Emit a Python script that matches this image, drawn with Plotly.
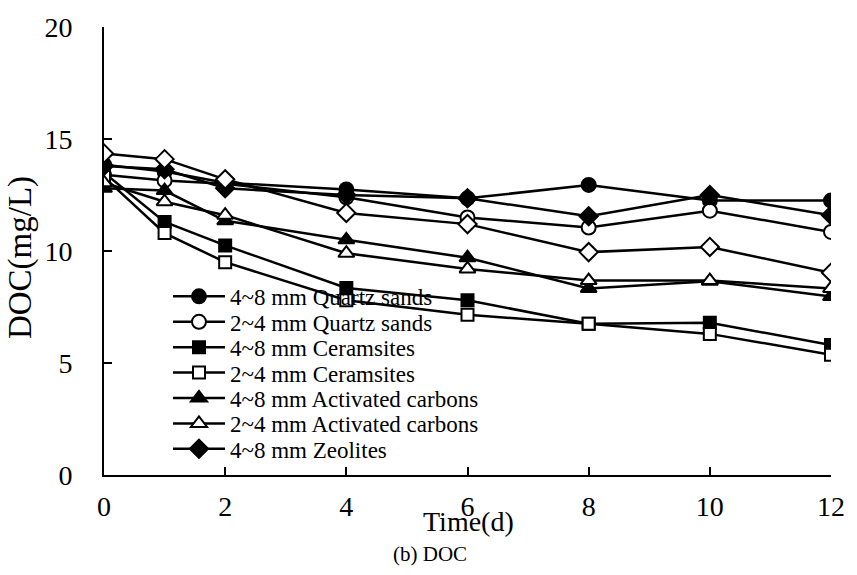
import plotly.graph_objects as go

days = [0, 1, 2, 4, 6, 8, 10, 12]

qs48 = [13.85, 13.55, 13.05, 12.75, 12.35, 12.95, 12.25, 12.25]
qs24 = [13.4, 13.15, 13.0, 12.4, 11.5, 11.05, 11.8, 10.85]
ce48 = [13.5, 11.3, 10.25, 8.35, 7.8, 6.75, 6.8, 5.8]
ce24 = [13.3, 10.8, 9.5, 7.8, 7.15, 6.75, 6.3, 5.37]
ac48 = [12.8, 12.7, 11.35, 10.5, 9.7, 8.33, 8.65, 7.97]
ac24 = [13.05, 12.2, 11.6, 9.9, 9.2, 8.68, 8.68, 8.33]
ze48 = [13.8, 13.65, 12.8, 12.5, 12.35, 11.55, 12.5, 11.6]
ze24 = [14.35, 14.1, 13.2, 11.7, 11.2, 9.95, 10.18, 9.03]

names = ["4~8 mm Quartz sands", "2~4 mm Quartz sands", "4~8 mm Ceramsites",
         "2~4 mm Ceramsites", "4~8 mm Activated carbons", "2~4 mm Activated carbons",
         "4~8 mm Zeolites", "2~4 mm Zeolites"]
series = [qs48, qs24, ce48, ce24, ac48, ac24, ze48, ze24]
symbols = ["circle", "circle", "square", "square", "triangle-up", "triangle-up", "diamond", "diamond"]
fills = ["black", "white", "black", "white", "black", "white", "black", "white"]
sizes = [14, 14, 12, 12, 14, 14, 14, 14]
in_legend = [True, True, True, True, True, True, True, False]

FONT = "Liberation Serif, Times New Roman, serif"

# legend row centres (pixels from top)
legend_rows_px = [294, 319.8, 345.5, 371.3, 397, 422.8, 448.5]
PLOT_TOP, PLOT_BOTTOM = 21, 475

fig = go.Figure()
leg_i = 0
layout_legends = {}
for nm, ys, sym, fc, sz, leg in zip(names, series, symbols, fills, sizes, in_legend):
    kw = {}
    if leg:
        key = "legend" if leg_i == 0 else f"legend{leg_i + 1}"
        kw["legend"] = key
        ypaper = (PLOT_BOTTOM - legend_rows_px[leg_i]) / (PLOT_BOTTOM - PLOT_TOP)
        layout_legends[key] = dict(
            x=0.088, y=ypaper, xanchor="left", yanchor="middle",
            bgcolor="rgba(0,0,0,0)", font=dict(size=23, family=FONT, color="black"),
            itemwidth=52,
        )
        leg_i += 1
    fig.add_trace(go.Scatter(
        x=days, y=ys, name=nm, mode="lines+markers", showlegend=leg,
        line=dict(color="black", width=2.5),
        marker=dict(symbol=sym, size=sz, color=fc, line=dict(color="black", width=2)),
        **kw,
    ))

fig.update_layout(
    width=857, height=575,
    margin=dict(l=104, r=19, t=PLOT_TOP, b=575 - PLOT_BOTTOM),
    paper_bgcolor="white", plot_bgcolor="white",
    font=dict(family=FONT, color="black", size=28),
    xaxis=dict(range=[0, 12], tickvals=[0, 2, 4, 6, 8, 10, 12], showgrid=False, zeroline=False,
               showline=True, linecolor="black", linewidth=2, ticks="inside", ticklen=8,
               tickwidth=1.5, tickcolor="black", ticklabelstandoff=5,
               tickfont=dict(size=28, family=FONT)),
    yaxis=dict(range=[0, 20], tickvals=[0, 5, 10, 15, 20], showgrid=False, zeroline=False,
               showline=True, linecolor="black", linewidth=2, ticks="inside", ticklen=8,
               tickwidth=1.5, tickcolor="black", ticklabelstandoff=24,
               tickfont=dict(size=28, family=FONT)),
    annotations=[
        dict(text="Time(d)", xref="paper", yref="paper", x=0.501, y=-0.104, xanchor="center",
             yanchor="middle", showarrow=False, font=dict(size=28, family=FONT)),
        dict(text="DOC(mg/L)", xref="paper", yref="paper", x=-0.115, y=0.485, xanchor="center",
             yanchor="middle", textangle=-90, showarrow=False, font=dict(size=33, family=FONT)),
        dict(text="(b) DOC", xref="paper", yref="paper", x=0.448, y=-0.176, xanchor="center",
             yanchor="middle", showarrow=False, font=dict(size=21, family=FONT)),
    ],
    **layout_legends,
)

fig.write_html("out.html")
